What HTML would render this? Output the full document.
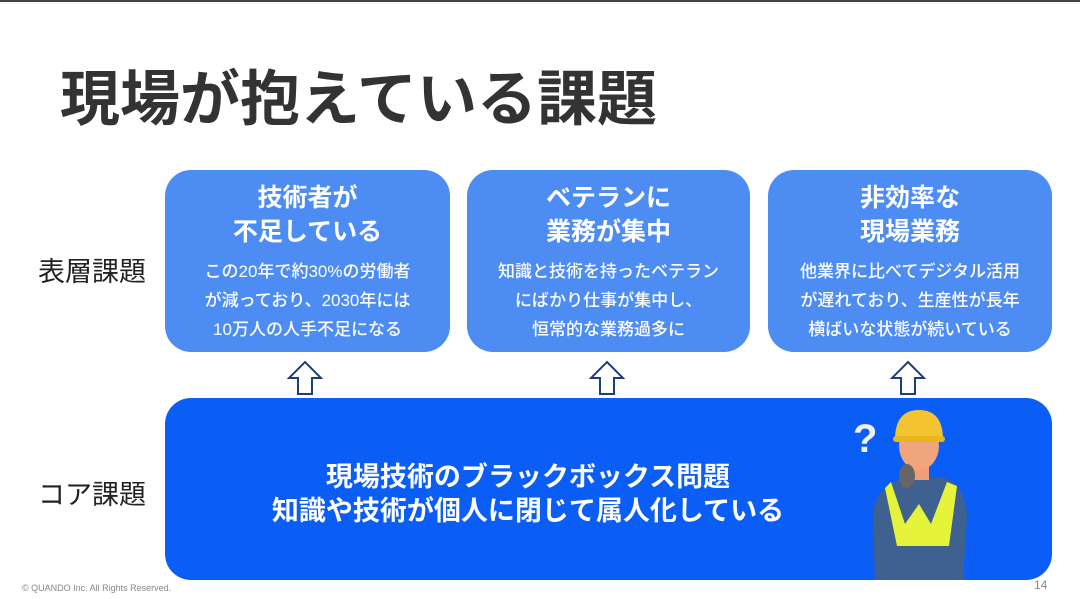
<!DOCTYPE html>
<html><head><meta charset="utf-8"><style>
*{margin:0;padding:0;box-sizing:border-box}
body{width:1080px;height:599px;background:#fff;position:relative;overflow:hidden;font-family:"Liberation Sans","Noto Sans CJK JP",sans-serif}
.topline{position:absolute;left:0;top:0;width:1080px;height:2px;background:#444}
.title{position:absolute;left:60px;top:62px;font-size:60px;font-weight:bold;color:#333;letter-spacing:0px;line-height:76px}
.lab{position:absolute;left:38px;font-size:27px;color:#222}
.box{position:absolute;top:170px;height:182px;background:#4d8cf3;border-radius:26px;color:#fff;text-align:center}
.box h2{font-size:25px;font-weight:bold;line-height:34px;margin-top:11px}
.box p{font-size:17px;line-height:29px;margin-top:8px;font-weight:500}
.core{position:absolute;left:165px;top:398px;width:887px;height:182px;background:#0b5ef5;border-radius:26px}
.core .t{position:absolute;left:0;width:726px;top:62px;text-align:center;color:#fff;font-size:27px;font-weight:bold;line-height:34px}
.arr{position:absolute;top:360px}
.foot{position:absolute;left:22px;top:583px;font-size:9px;color:#888}
.pg{position:absolute;left:1034px;top:578px;font-size:12px;color:#888}
</style></head><body>
<div class="topline"></div>
<div class="title">現場が抱えている課題</div>
<div class="lab" style="top:250px">表層課題</div>
<div class="lab" style="top:473px">コア課題</div>
<div class="box" style="left:165px;width:285px"><h2>技術者が<br>不足している</h2><p>この20年で約30%の労働者<br>が減っており、2030年には<br>10万人の人手不足になる</p></div>
<div class="box" style="left:467px;width:283px"><h2>ベテランに<br>業務が集中</h2><p>知識と技術を持ったベテラン<br>にばかり仕事が集中し、<br>恒常的な業務過多に</p></div>
<div class="box" style="left:768px;width:284px"><h2>非効率な<br>現場業務</h2><p>他業界に比べてデジタル活用<br>が遅れており、生産性が長年<br>横ばいな状態が続いている</p></div>
<svg class="arr" style="left:287px" width="36" height="36"><polygon points="18,2 34,18 25,18 25,34 11,34 11,18 2,18" fill="#fff" stroke="#1f3f7a" stroke-width="2"/></svg>
<svg class="arr" style="left:589px" width="36" height="36"><polygon points="18,2 34,18 25,18 25,34 11,34 11,18 2,18" fill="#fff" stroke="#1f3f7a" stroke-width="2"/></svg>
<svg class="arr" style="left:890px" width="36" height="36"><polygon points="18,2 34,18 25,18 25,34 11,34 11,18 2,18" fill="#fff" stroke="#1f3f7a" stroke-width="2"/></svg>
<div class="core"><div class="t">現場技術のブラックボックス問題<br>知識や技術が個人に閉じて属人化している</div>
<svg style="position:absolute;left:680px;top:8px" width="130" height="174" viewBox="0 0 130 174">
<text x="8" y="46" font-size="40" font-weight="bold" fill="#f0f0f0" font-family="Liberation Sans,sans-serif">?</text>
<path d="M30 174 L28 110 Q30 80 60 72 L100 72 Q120 80 122 110 L118 174 Z" fill="#3f6190"/>
<path d="M46 76 L60 118 L74 98 L86 118 L102 76 L112 80 L104 140 L52 140 L40 82 Z" fill="#e5f43a"/>
<rect x="64" y="50" width="20" height="24" fill="#ee9f77"/>
<ellipse cx="74" cy="40" rx="20" ry="24" fill="#f0a57d"/>
<path d="M50 34 Q50 4 74 4 Q98 4 98 34 Z" fill="#f4c430"/>
<rect x="48" y="30" width="52" height="6" rx="3" fill="#e9b620"/>
<ellipse cx="62" cy="70" rx="8" ry="12" fill="#666"/>
</svg></div>
<div class="foot">© QUANDO Inc. All Rights Reserved.</div>
<div class="pg">14</div>
</body></html>
